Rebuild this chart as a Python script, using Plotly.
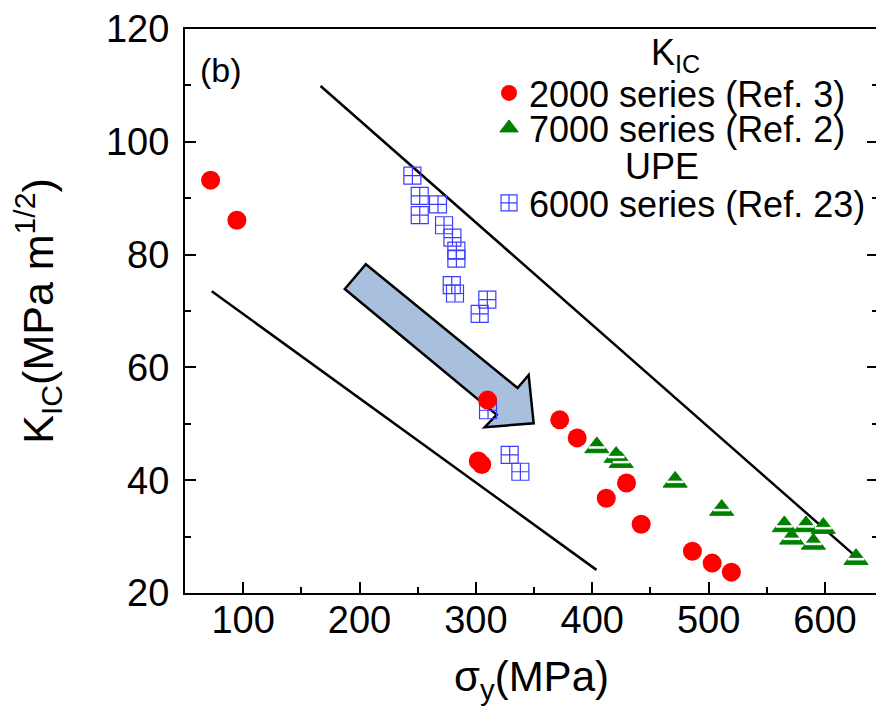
import plotly.graph_objects as go

# ---- data ----
s2000_x = [72, 94.6, 302, 305, 310, 372, 387, 412, 429.4, 442, 486, 503, 519.5]
s2000_y = [93.2, 86.1, 43.4, 42.8, 54.2, 50.7, 47.5, 36.8, 39.5, 32.2, 27.4, 25.3, 23.7]

s7000_x = [403.9, 420.5, 424.8, 471.2, 511.2, 565, 571.3, 583.6, 590, 598.5, 626.6]
s7000_y = [45.8, 44.1, 43.2, 39.7, 34.7, 31.8, 29.6, 31.8, 28.7, 31.5, 26.0]

s6000_x = [245.4, 251.7, 251.7, 267.4, 272.6, 279.8, 283.2, 283.2, 279.2, 282,
           309.8, 303.2, 310.4, 329, 338.2]
s6000_y = [94.0, 90.4, 87.0, 88.9, 85.2, 83.0, 80.7, 79.3, 74.6, 73.1,
           72.0, 69.5, 52.4, 44.5, 41.5]

upper_x = [166.5, 626.8]
upper_y = [109.9, 26.4]
lower_x = [73, 403.6]
lower_y = [73.5, 24.1]

arrow_x = [205.4, 335.8, 345.3, 349.6, 307.5, 317.8, 187.3]
arrow_y = [78.3, 56.35, 58.65, 50.1, 49.4, 51.6, 73.9]

x_ticks = [100, 200, 300, 400, 500, 600]
y_ticks = [20, 40, 60, 80, 100, 120]

FONT = "Liberation Sans, Arial, sans-serif"
RED = "#ff0000"
GREEN = "#008000"
BLUE = "rgb(60,60,255)"

fig = go.Figure()

# guide lines
fig.add_trace(go.Scatter(x=upper_x, y=upper_y, mode="lines",
                         line=dict(color="black", width=2.5), showlegend=False, hoverinfo="skip"))
fig.add_trace(go.Scatter(x=lower_x, y=lower_y, mode="lines",
                         line=dict(color="black", width=2.5), showlegend=False, hoverinfo="skip"))

# arrow
path = "M " + " L ".join(f"{x},{y}" for x, y in zip(arrow_x, arrow_y)) + " Z"
fig.add_shape(type="path", path=path, xref="x", yref="y", layer="below",
              fillcolor="rgb(168,192,222)", line=dict(color="black", width=2.5))

# 6000 series (UPE)
fig.add_trace(go.Scatter(x=s6000_x, y=s6000_y, mode="markers", name="6000 series (Ref. 23)",
                         legend="legend3",
                         marker=dict(symbol="square-cross-open", size=17, color=BLUE,
                                     line=dict(color=BLUE, width=1.2))))

# 2000 series
fig.add_trace(go.Scatter(x=s2000_x, y=s2000_y, mode="markers", name="2000 series (Ref. 3)",
                         legend="legend",
                         marker=dict(symbol="circle", size=19, color=RED, line=dict(width=0))))

# 7000 series
fig.add_trace(go.Scatter(x=s7000_x, y=s7000_y, mode="markers", name="7000 series (Ref. 2)",
                         legend="legend2",
                         marker=dict(symbol="triangle-up", size=21, color=GREEN,
                                     line=dict(color=GREEN, width=1))))
fig.add_trace(go.Scatter(x=s7000_x, y=s7000_y, mode="markers", showlegend=False, hoverinfo="skip",
                         marker=dict(symbol="line-ew", size=12, color="white",
                                     line=dict(color="white", width=2.5))))

tickfont = dict(family=FONT, size=38, color="black")
leg_common = dict(xanchor="left", yanchor="middle", bgcolor="rgba(0,0,0,0)",
                  borderwidth=0, font=dict(family=FONT, size=36, color="black"),
                  itemclick=False, itemdoubleclick=False)
LX = 0.4387

# page has an 8px body margin, so the figure is 8px smaller and margins shifted by 8
fig.update_layout(
    width=876, height=715,
    margin=dict(l=177, r=6, t=21, b=130),
    paper_bgcolor="white", plot_bgcolor="white",
    font=dict(family=FONT, color="black"),
    legend=dict(x=LX, y=(593 - 93) / 564, **leg_common),
    legend2=dict(x=LX, y=(593 - 128) / 564, **leg_common),
    legend3=dict(x=LX, y=(593 - 203) / 564, **leg_common),
    xaxis=dict(range=[50, 645.5], tickvals=x_ticks, ticks="inside", ticklen=11, tickwidth=2,
               tickcolor="black", showline=True, linecolor="black", linewidth=2, mirror=True,
               showgrid=False, zeroline=False, tickfont=tickfont, ticklabelstandoff=-8,
               automargin=False,
               minor=dict(dtick=50, tick0=0, ticks="inside", ticklen=6, tickwidth=2, tickcolor="black"),
               title=dict(text="σ<sub>y</sub>(MPa)", font=dict(family=FONT, size=42), standoff=22)),
    yaxis=dict(range=[20, 120], tickvals=y_ticks, ticks="inside", ticklen=11, tickwidth=2,
               tickcolor="black", showline=True, linecolor="black", linewidth=2, mirror="ticks",
               showgrid=False, zeroline=False, tickfont=tickfont, ticklabelstandoff=6,
               automargin=False,
               minor=dict(dtick=10, tick0=0, ticks="inside", ticklen=6, tickwidth=2, tickcolor="black"),
               title=dict(text="K<sub>IC</sub>(MPa m<sup>1/2</sup>)", font=dict(family=FONT, size=43),
                          standoff=40)),
    annotations=[
        dict(text="(b)", x=(221 - 185) / 693, y=(593 - 70) / 564, xref="paper", yref="paper",
             showarrow=False, xanchor="center", yanchor="middle", font=dict(family=FONT, size=34)),
        dict(text="K<sub>IC</sub>", x=(675 - 185) / 693, y=(593 - 55) / 564, xref="paper",
             yref="paper", showarrow=False, xanchor="center", yanchor="middle",
             font=dict(family=FONT, size=36)),
        dict(text="UPE", x=(662 - 185) / 693, y=(593 - 167) / 564, xref="paper",
             yref="paper", showarrow=False, xanchor="center", yanchor="middle",
             font=dict(family=FONT, size=36)),
    ],
)

fig.write_html("out.html")
